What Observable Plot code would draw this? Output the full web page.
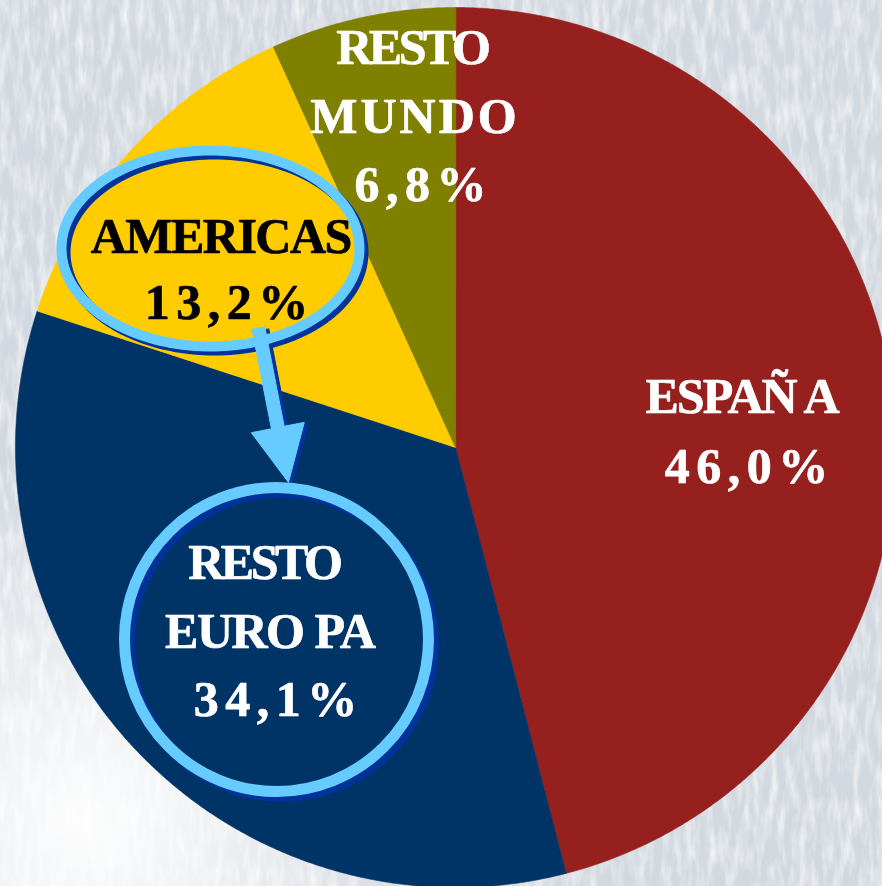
<!DOCTYPE html>
<html>
<head>
<meta charset="utf-8">
<script src="https://cdn.jsdelivr.net/npm/d3@7"></script>
<script src="https://cdn.jsdelivr.net/npm/@observablehq/plot@0.6"></script>
<style>
  html, body { margin: 0; padding: 0; background: #dde2e8; }
  #chart { width: 882px; height: 886px; overflow: hidden; }
  #chart svg { display: block; }
</style>
</head>
<body>
<div id="chart"></div>
<script>
// ---------- data ----------
const categories = ["ESPAÑA", "RESTO EUROPA", "AMERICAS", "RESTO MUNDO"];
const values = [46.0, 34.1, 13.2, 6.8];
const nameLines = [["ESPAÑ A"], ["RESTO", "EURO PA"], ["AMERICAS"], ["RESTO", "MUNDO"]];
const sliceColors = ["#95201E", "#003366", "#FFCC00", "#808000"];

// ---------- layout (pixels) ----------
const W = 882, H = 886, CX = 455, CY = 447, R = 440;
const toX = p => (p - CX) / R;
const toY = p => (CY - p) / R;
// per category: [x, baseline] of each line (name lines then percent line)
const labelLayout = [
  [[742, 412], [746, 482]],
  [[265, 578], [270, 647], [275, 715]],
  [[221, 252], [226, 318]],
  [[413, 63], [413, 132], [420, 200]]
];
const labelInk = ["white", "white", "black", "white"];
const spacing = {"RESTO": -3.5, "MUNDO": 3, "AMERICAS": -1.5, "ESPAÑ A": -2, "EURO PA": -1.5};
const numSpacing = 6.5;
const ELL = {cx: 210, cy: 248, rx: 149, ry: 98};
const CIRC = {cx: 276, cy: 639, r: 152};
const ARROW = {sx: 258, sy: 328, tx: 288, ty: 482, head: 56, headHalf: 27, shaftHalf: 6.5};
const lightBlue = "#66CCFF", darkBlue = "#003399";

// ---------- pie geometry ----------
const arcs = d3.pie().sort(null).value(d => d)(values);
const slicePts = [];
arcs.forEach((a, i) => {
  const n = Math.max(4, Math.ceil((a.endAngle - a.startAngle) / 0.005));
  slicePts.push({cat: categories[i], x: 0, y: 0});
  for (let k = 0; k <= n; k++) {
    const t = a.startAngle + (a.endAngle - a.startAngle) * k / n;
    slicePts.push({cat: categories[i], x: Math.sin(t), y: Math.cos(t)});
  }
});

// ---------- labels ----------
const fmt = v => d3.format(".1f")(v).replace(".", ",") + "%";
const labels = [];
categories.forEach((c, i) => {
  const lines = [...nameLines[i], fmt(values[i])];
  lines.forEach((t, j) => {
    const ls = j === lines.length - 1 ? numSpacing : (spacing[t] ?? 0);
    const [lx, ly] = labelLayout[i][j];
    labels.push({text: t, x: toX(lx + ls / 2), y: toY(ly), ink: labelInk[i], ls});
  });
});

// ---------- annotation shapes ----------
const ellipsePts = d3.range(0, 181).map(k => {
  const t = 2 * Math.PI * k / 180;
  return {x: toX(ELL.cx + ELL.rx * Math.cos(t)), y: toY(ELL.cy + ELL.ry * Math.sin(t))};
});
const arrowPts = (() => {
  const A = ARROW;
  const dx = A.tx - A.sx, dy = A.ty - A.sy, L = Math.hypot(dx, dy);
  const u = [dx / L, dy / L], n = [u[1], -u[0]];
  const B = [A.tx - A.head * u[0], A.ty - A.head * u[1]];
  const P = (p, s) => [p[0] + s * n[0], p[1] + s * n[1]];
  const S = [A.sx, A.sy];
  return [P(S, -A.shaftHalf), P(B, -A.shaftHalf), P(B, -A.headHalf), [A.tx, A.ty],
          P(B, A.headHalf), P(B, A.shaftHalf), P(S, A.shaftHalf)]
    .map(([px, py]) => ({x: toX(px), y: toY(py)}));
})();
const circleCenter = [{x: toX(CIRC.cx), y: toY(CIRC.cy)}];

// ---------- background texture ----------
function backdrop() {
  const g = d3.create("svg:g");
  const defs = g.append("defs");
  const rg = defs.append("radialGradient").attr("id", "glow")
    .attr("cx", 0.1).attr("cy", 0.93).attr("r", 0.42);
  rg.append("stop").attr("offset", 0).attr("stop-color", "#ffffff").attr("stop-opacity", 0.95);
  rg.append("stop").attr("offset", 1).attr("stop-color", "#ffffff").attr("stop-opacity", 0);
  const f = defs.append("filter").attr("id", "tex").attr("x", 0).attr("y", 0)
    .attr("width", "100%").attr("height", "100%");
  f.append("feTurbulence").attr("type", "fractalNoise").attr("baseFrequency", "0.13 0.03")
    .attr("numOctaves", 3).attr("seed", 7);
  f.append("feColorMatrix").attr("type", "matrix")
    .attr("values", "0 0 0 0 1  0 0 0 0 1  0 0 0 0 1  1.8 0 0 0 -0.7");
  g.append("rect").attr("width", W).attr("height", H).attr("fill", "#d2d8df");
  g.append("rect").attr("width", W).attr("height", H).attr("filter", "url(#tex)").attr("opacity", 0.8);
  g.append("rect").attr("width", W).attr("height", H).attr("fill", "url(#glow)");
  return g.node();
}

// ---------- plot ----------
const chart = Plot.plot({
  width: W,
  height: H,
  margin: 0,
  style: {background: "transparent"},
  x: {domain: [toX(0), toX(W)], axis: null},
  y: {domain: [toY(H), toY(0)], axis: null},
  color: {domain: categories, range: sliceColors},
  marks: [
    backdrop,
    Plot.line(slicePts, {x: "x", y: "y", z: "cat", fill: "cat", stroke: "cat", strokeWidth: 0.6, curve: "linear-closed"}),
    // shadows
    Plot.line(ellipsePts, {x: "x", y: "y", stroke: darkBlue, strokeWidth: 10, fill: "none", curve: "linear-closed", dx: 4, dy: 4}),
    Plot.dot(circleCenter, {x: "x", y: "y", r: CIRC.r, stroke: darkBlue, strokeWidth: 11, fill: "none", dx: 5, dy: 5}),
    Plot.line(arrowPts, {x: "x", y: "y", fill: darkBlue, stroke: darkBlue, strokeWidth: 1, curve: "linear-closed", dx: 4, dy: 2}),
    // light rings and arrow
    Plot.line(ellipsePts, {x: "x", y: "y", stroke: lightBlue, strokeWidth: 10, fill: "none", curve: "linear-closed"}),
    Plot.dot(circleCenter, {x: "x", y: "y", r: CIRC.r, stroke: lightBlue, strokeWidth: 11, fill: "none"}),
    Plot.line(arrowPts, {x: "x", y: "y", fill: lightBlue, stroke: lightBlue, strokeWidth: 1, curve: "linear-closed"}),
    // labels
    Plot.text(labels, {
      x: "x", y: "y", text: "text", fill: "ink", stroke: "ink", strokeWidth: 0.7,
      fontFamily: "'Liberation Serif', 'Times New Roman', serif",
      fontWeight: "bold", fontSize: 50, textAnchor: "middle", lineAnchor: "bottom"
    })
  ]
});

// letter spacing of the labels
const lsByText = new Map(labels.map(d => [d.text, d.ls]));
d3.select(chart).selectAll("text").each(function () {
  const t = this.textContent;
  if (lsByText.has(t)) d3.select(this).attr("letter-spacing", lsByText.get(t));
});

document.getElementById("chart").appendChild(chart);
</script>
</body>
</html>
